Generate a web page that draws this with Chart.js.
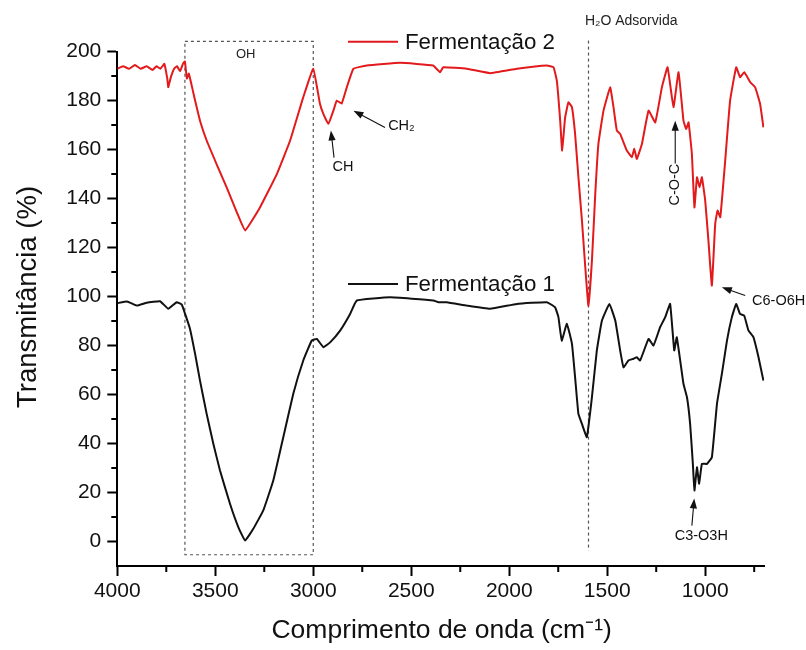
<!DOCTYPE html>
<html><head><meta charset="utf-8">
<script src="https://cdn.jsdelivr.net/npm/chart.js@4.4.1/dist/chart.umd.min.js"></script>
<style>html,body{margin:0;padding:0;background:#fff}#wrap{width:806px;height:650px;position:relative}</style>
</head><body><div id="wrap"><canvas id="c" width="806" height="650"></canvas></div>
<script>
// ---- Data (wavenumber cm-1, transmittance %) ----
const seriesNames = ['Fermentação 2', 'Fermentação 1'];
const wn2 = [4000,3970,3940,3910,3880,3850,3820,3800,3780,3760,3745,3740,3735,3725,3710,3695,3680,3665,3655,3645,3635,3620,
  3603,3578,3544,3493,3442,3390,3348,3272,3186,3118,3051,3000,2966,2948,2923,2897,2880,2855,2829,2795,2727,2557,2389,2353,2337,
  2216,2098,1961,1808,1774,1757,1740,1730,1715,1698,1680,1664,1647,1629,1612,1596,1578,1561,1545,1519,1485,1468,1451,1434,1400,
  1374,1362,1349,1323,1289,1255,1221,1192,1162,1136,1111,1097,1085,1068,1055,1042,1029,1017,1000,983,966,949,937,923,898,873,842,
  822,801,770,745,720,703];
const t2 = [193,194,193,194.5,193,194,192.5,194,193,195,189,185.5,187,190,193,194,192,195,196,189,191,186,
  180,171.8,163.7,154,144.6,134.4,127,136.4,150,163.7,181.4,193,178.7,174.5,170.5,176,180,178.8,185.4,193,194.3,195.4,194.3,191.6,193.6,
  193,191.2,193,194.3,193.6,188,171.8,159.6,173,179.3,177.3,166.4,148.7,131,112,96.3,114.7,141.9,162.3,175.9,185.4,177.3,167.8,166.4,159.6,
  156.9,160.3,156.2,162.3,175.9,171.1,185.4,193.6,177.3,191.6,171.8,168.4,171.1,158.2,136.4,148.7,144.6,148.7,139.2,122.2,104.5,129.7,135.1,132.4,155.5,180,193.6,
  189.5,191.6,187.5,185.4,178.7,169.1];

const wn1 = [4000,3950,3901,3850,3782,3740,3697,3671,3654,3629,3603,3578,3544,3510,3476,3425,3382,3348,3306,3255,3204,3153,3102,3051,
  3008,2982,2948,2914,2863,2812,2778,2608,2387,2361,2319,2216,2098,1961,1808,1766,1749,1732,1706,1680,1664,1647,1629,1604,1578,1553,
  1527,1489,1459,1434,1417,1392,1366,1349,1332,1289,1264,1230,1204,1179,1158,1145,1111,1093,1077,1063,1055,1042,1031,1017,991,966,
  940,915,889,864,842,822,801,779,754,728,703];
const t1 = [97.3,98,96.3,97.5,98.1,95,97.7,96.7,92.9,86.8,76.6,65.7,52.1,39.9,29,15.4,5.8,0.4,5.2,12.7,24.9,42.6,60.3,73.9,
  82,82.7,79.3,81.3,86.1,92.9,98.4,99.7,98.4,97.7,97.7,96.3,95,97,97.7,95.6,91.6,82,88.9,80.7,67.1,52.1,48,42.6,58.9,78,
  90.2,97,90.2,78,71.1,73.9,74.6,75.2,73.9,82.7,80,87.5,91.6,97,78,83.4,64.4,58.9,48,31.7,20.8,30.3,23.6,31.7,31.7,34.4,
  56.2,68.4,82,91.6,97,92.9,92.2,86.1,83.4,75.2,65.7];

const xTicks = [4000,3500,3000,2500,2000,1500,1000];
const xMinorTicks = [3750,3250,2750,2250,1750,1250,750];
const yTicks = [0,20,40,60,80,100,120,140,160,180,200];
const yMinorTicks = [10,30,50,70,90,110,130,150,170,190];
const xTitle = 'Comprimento de onda (cm⁻¹)';
const yTitle = 'Transmitância (%)';

// annotations in data coordinates
const annotations = {
  ohBox: {x1: 3655, x2: 3000, y1: 204.2, y2: -5.4, label: 'OH', lx: 3345, ly: 198.8},
  h2oLine: {x: 1600, y1: 204.5, y2: -3.8, label: 'H₂O Adsorvida', lx: 1614, ly: 212.6},
  arrows: [
    {text: 'CH', tx: 2848, ty: 153, x1: 2894, y1: 156.7, x2: 2910, y2: 167.8, align: 'center'},
    {text: 'CH₂', tx: 2618, ty: 169.8, x1: 2634, y1: 169, x2: 2795, y2: 175.9, align: 'left'},
    {text: 'C-O-C', tx: 1153, ty: 145.7, x1: 1153, y1: 154.3, x2: 1153, y2: 171.8, align: 'center', rot: true},
    {text: 'C6-O6H', tx: 761, ty: 98, x1: 796, y1: 100.4, x2: 915, y2: 103.8, align: 'left'},
    {text: 'C3-O3H', tx: 1020, ty: 2.4, x1: 1068, y1: 6.5, x2: 1056, y2: 17.6, align: 'center'}
  ]
};

const FONT = "'Liberation Sans', Arial, sans-serif";
const colors = ['#e31a1c', '#111111'];

function drawArrow(ctx, x1, y1, x2, y2) {
  const ang = Math.atan2(y2 - y1, x2 - x1);
  const L = 10, W = 3.6;
  ctx.beginPath();
  ctx.moveTo(x1, y1);
  ctx.lineTo(x2 - L * 0.8 * Math.cos(ang), y2 - L * 0.8 * Math.sin(ang));
  ctx.stroke();
  ctx.beginPath();
  ctx.moveTo(x2, y2);
  ctx.lineTo(x2 - L * Math.cos(ang) + W * Math.sin(ang), y2 - L * Math.sin(ang) - W * Math.cos(ang));
  ctx.lineTo(x2 - L * Math.cos(ang) - W * Math.sin(ang), y2 - L * Math.sin(ang) + W * Math.cos(ang));
  ctx.closePath();
  ctx.fill();
}

const decorPlugin = {
  id: 'decor',
  beforeDatasetsDraw(chart) {
    const {ctx, scales: {x, y}} = chart;
    ctx.save();
    ctx.strokeStyle = '#555';
    ctx.lineWidth = 1.2;
    ctx.setLineDash([3, 3]);
    const b = annotations.ohBox;
    const bx1 = x.getPixelForValue(b.x1), bx2 = x.getPixelForValue(b.x2);
    const by1 = y.getPixelForValue(b.y1), by2 = y.getPixelForValue(b.y2);
    ctx.strokeRect(bx1, by1, bx2 - bx1, by2 - by1);
    const h = annotations.h2oLine;
    const hx = Math.round(x.getPixelForValue(h.x)) + 0.5;
    ctx.beginPath();
    ctx.moveTo(hx, y.getPixelForValue(h.y1));
    ctx.lineTo(hx, y.getPixelForValue(h.y2));
    ctx.stroke();
    ctx.restore();
  },
  afterDraw(chart) {
    const {ctx, scales: {x, y}, chartArea} = chart;
    ctx.save();
    // minor ticks
    ctx.strokeStyle = '#000';
    ctx.lineWidth = 2;
    ctx.beginPath();
    xMinorTicks.forEach(v => {
      const px = x.getPixelForValue(v);
      ctx.moveTo(px, chartArea.bottom);
      ctx.lineTo(px, chartArea.bottom + 6);
    });
    yMinorTicks.forEach(v => {
      const py = y.getPixelForValue(v);
      ctx.moveTo(chartArea.left - 6, py);
      ctx.lineTo(chartArea.left, py);
    });
    ctx.stroke();

    // axis titles
    ctx.fillStyle = '#111';
    ctx.textBaseline = 'middle';
    ctx.textAlign = 'center';
    ctx.font = `26.5px ${FONT}`;
    ctx.fillText(xTitle, (chartArea.left + chartArea.right) / 2 + 1, 631);
    ctx.save();
    ctx.translate(28, 297);
    ctx.rotate(-Math.PI / 2);
    ctx.font = `27.5px ${FONT}`;
    ctx.fillText(yTitle, 0, 0);
    ctx.restore();

    // annotation labels
    ctx.fillStyle = '#222';
    ctx.font = `13px ${FONT}`;
    const b = annotations.ohBox;
    ctx.textAlign = 'center';
    ctx.fillText(b.label, x.getPixelForValue(b.lx), y.getPixelForValue(b.ly));
    const h = annotations.h2oLine;
    ctx.textAlign = 'left';
    ctx.font = `14px ${FONT}`;
    ctx.fillText(h.label, x.getPixelForValue(h.lx), y.getPixelForValue(h.ly));

    ctx.strokeStyle = '#111';
    ctx.fillStyle = '#111';
    ctx.lineWidth = 1.1;
    annotations.arrows.forEach(a => {
      drawArrow(ctx, x.getPixelForValue(a.x1), y.getPixelForValue(a.y1), x.getPixelForValue(a.x2), y.getPixelForValue(a.y2));
      const tx = x.getPixelForValue(a.tx), ty = y.getPixelForValue(a.ty);
      ctx.font = `14.5px ${FONT}`;
      if (a.rot) {
        ctx.save();
        ctx.translate(tx, ty);
        ctx.rotate(-Math.PI / 2);
        ctx.textAlign = 'center';
        ctx.fillText(a.text, 0, 0);
        ctx.restore();
      } else {
        ctx.textAlign = a.align;
        ctx.fillText(a.text, tx, ty);
      }
    });

    // legend entries (placed inside plot near each curve)
    const legendY = [41.7, 284];
    ctx.font = `22.3px ${FONT}`;
    ctx.textAlign = 'left';
    chart.data.datasets.forEach((ds, i) => {
      ctx.strokeStyle = ds.borderColor;
      ctx.lineWidth = 2;
      ctx.beginPath();
      ctx.moveTo(348, legendY[i]);
      ctx.lineTo(398, legendY[i]);
      ctx.stroke();
      ctx.fillStyle = '#111';
      ctx.fillText(ds.label, 405, legendY[i] + 1);
    });
    ctx.restore();
  }
};

new Chart(document.getElementById('c'), {
  type: 'line',
  data: {
    datasets: [
      {label: seriesNames[0], data: wn2.map((w, i) => ({x: w, y: t2[i]})), borderColor: colors[0], borderWidth: 2, pointRadius: 0, tension: 0.1, fill: false},
      {label: seriesNames[1], data: wn1.map((w, i) => ({x: w, y: t1[i]})), borderColor: colors[1], borderWidth: 2, pointRadius: 0, tension: 0.1, fill: false}
    ]
  },
  options: {
    responsive: false,
    animation: false,
    devicePixelRatio: 1,
    layout: {padding: {left: 0, top: 51.6, right: 42, bottom: 0}},
    plugins: {legend: {display: false}, tooltip: {enabled: false}},
    scales: {
      x: {
        type: 'linear', reverse: true, min: 700, max: 4000, position: 'bottom',
        border: {color: '#000', width: 2},
        grid: {drawOnChartArea: false, drawTicks: true, tickLength: 10, tickColor: '#000', tickWidth: 2},
        ticks: {color: '#111', font: {family: FONT, size: 21}, padding: 3, maxRotation: 0, autoSkip: false, callback: v => String(v)},
        afterBuildTicks: s => { s.ticks = xTicks.map(v => ({value: v})); },
        afterFit: s => { s.height = 84; },
        title: {display: false}
      },
      y: {
        type: 'linear', min: -10, max: 200, position: 'left',
        border: {color: '#000', width: 2},
        grid: {drawOnChartArea: false, drawTicks: true, tickLength: 10, tickColor: '#000', tickWidth: 2},
        ticks: {color: '#111', font: {family: FONT, size: 21}, padding: 6, autoSkip: false, callback: v => String(v)},
        afterBuildTicks: s => { s.ticks = yTicks.map(v => ({value: v})); },
        afterFit: s => { s.width = 117.3; },
        title: {display: false}
      }
    }
  },
  plugins: [decorPlugin]
});
</script></body></html>
